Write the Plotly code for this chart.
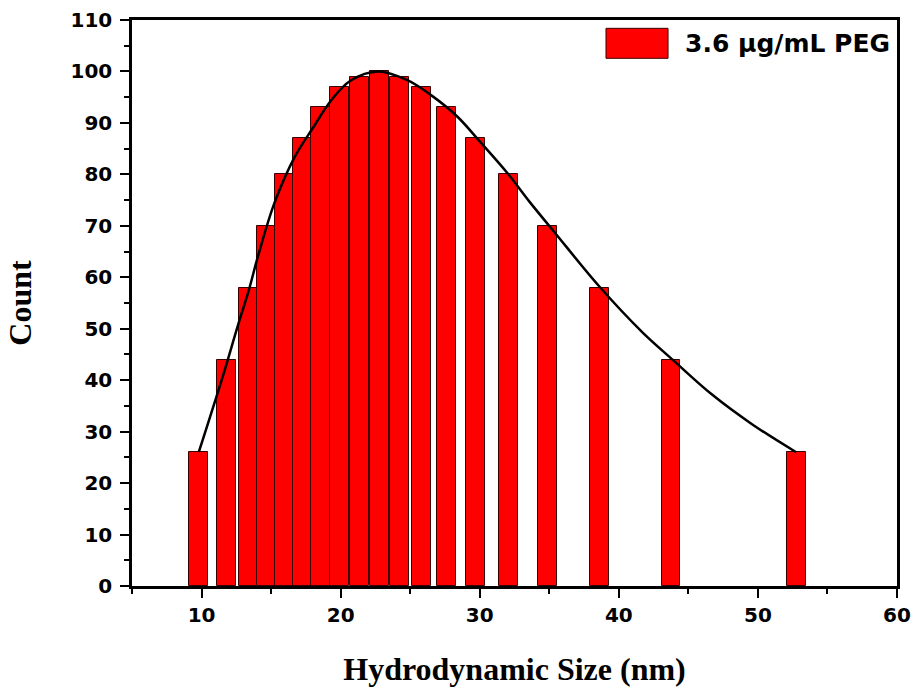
import plotly.graph_objects as go

# Histogram bars (bin centres in nm, counts)
size_nm = [9.81, 11.81, 13.34, 14.67, 15.98, 17.29, 18.57, 19.93, 21.33, 22.77,
           24.25, 25.83, 27.6, 29.69, 32.07, 34.88, 38.6, 43.75, 52.75]
counts = [26, 44, 58, 70, 80, 87, 93, 97, 99, 100,
          99, 97, 93, 87, 80, 70, 58, 44, 26]

# Fitted distribution curve
fit_x = [9.8, 11.5, 12.6, 13.4, 14.1, 15.25, 16.7, 18.0, 19.3, 20.7, 22.7,
         24.8, 26.5, 28.4, 30.0, 32.0, 33.6, 35.3, 38.6, 41.7, 43.9, 46.7, 49.6, 52.75]
fit_y = [26, 40.5, 50.5, 57.5, 64.5, 74.5, 83.4, 89.0, 94.3, 98.2, 100,
         98.3, 95.4, 91.2, 86.4, 80.2, 74.6, 69.0, 58.2, 49.3, 43.9, 37.2, 31.4, 26]

x_ticks = [10, 20, 30, 40, 50, 60]
y_ticks = [0, 10, 20, 30, 40, 50, 60, 70, 80, 90, 100, 110]
legend_label = "3.6 μg/mL PEG"

fig = go.Figure()
fig.add_trace(go.Bar(
    x=size_nm, y=counts, width=1.36,
    marker=dict(color="#ff0000", line=dict(color="#3a0000", width=1)),
    showlegend=False,
))
fig.add_trace(go.Scatter(
    x=fit_x, y=fit_y, mode="lines",
    line=dict(color="black", width=2.5, shape="spline", smoothing=1.0),
    showlegend=False,
))

tickfont = dict(family="DejaVu Sans", size=20, color="black", weight="bold")
titlefont = dict(family="Liberation Serif, Times New Roman", size=32, color="black", weight="bold")

fig.update_layout(
    width=914, height=692,
    margin=dict(l=132, r=17, t=20, b=106),
    plot_bgcolor="white", paper_bgcolor="white",
    bargap=0,
    xaxis=dict(
        range=[5, 60], tickvals=x_ticks, ticktext=[str(v) for v in x_ticks],
        ticks="outside", ticklen=9, tickwidth=2, tickcolor="black",
        minor=dict(dtick=5, tick0=5, ticks="outside", ticklen=5, tickwidth=2, tickcolor="black"),
        showline=True, linewidth=2.5, linecolor="black", mirror=True,
        showgrid=False, zeroline=False, tickfont=tickfont, automargin=False,
        title=dict(text="Hydrodynamic Size (nm)", font=titlefont, standoff=32),
    ),
    yaxis=dict(
        range=[0, 110], tickvals=y_ticks, ticktext=[str(v) for v in y_ticks],
        ticks="outside", ticklen=9, tickwidth=2, tickcolor="black",
        minor=dict(dtick=5, tick0=0, ticks="outside", ticklen=5, tickwidth=2, tickcolor="black"),
        showline=True, linewidth=2.5, linecolor="black", mirror=True,
        showgrid=False, zeroline=False, tickfont=tickfont, automargin=False,
        ticklabelstandoff=4,
        title=dict(text="Count", font=titlefont, standoff=30),
    ),
    shapes=[dict(
        type="rect", xref="paper", yref="paper",
        x0=0.6196, x1=0.7007, y0=0.9323, y1=0.9853,
        fillcolor="#ff0000", line=dict(color="#3a0000", width=1),
    )],
    annotations=[dict(
        text=legend_label, xref="paper", yref="paper",
        x=0.7203, y=0.958, xanchor="left", yanchor="middle", showarrow=False,
        font=dict(family="DejaVu Sans", size=25, color="black", weight="bold"),
    )],
)

fig.write_html("out.html")
